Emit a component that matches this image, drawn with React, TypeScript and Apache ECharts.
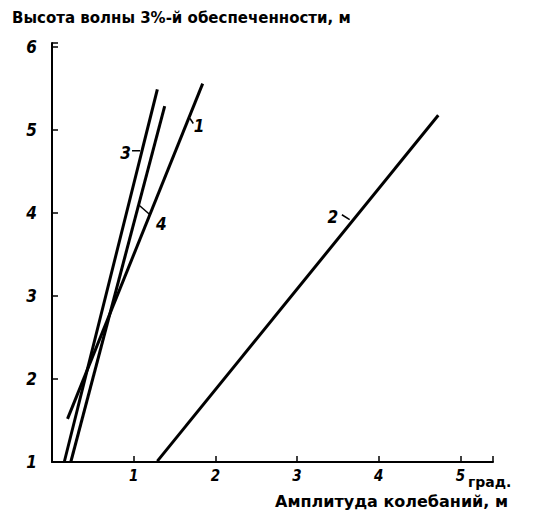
import React, { useEffect, useRef } from "react";
import * as echarts from "echarts";

// Data
const curveNames = ["1", "2", "3", "4"];
const amplitudeStart = [0.19, 1.29, 0.15, 0.23];
const amplitudeEnd = [1.845, 4.73, 1.29, 1.38];
const heightStart = [1.52, 1.01, 1.0, 1.0];
const heightEnd = [5.56, 5.18, 5.49, 5.29];

// Curve label anchor points and leader lines (data coordinates)
const labelX = [1.8, 3.44, 0.9, 1.34];
const labelY = [5.05, 3.95, 4.72, 3.87];
const leaderX1 = [1.69, 3.55, 0.98, 1.06];
const leaderY1 = [5.14, 3.98, 4.75, 4.1];
const leaderX2 = [1.73, 3.645, 1.08, 1.2];
const leaderY2 = [5.08, 3.92, 4.75, 3.98];

const xTicks = [1, 2, 3, 4, 5];
const yTicks = [1, 2, 3, 4, 5, 6];

const yTitle = "Высота волны 3%-й обеспеченности, м";
const xUnit = "град.";
const xTitle = "Амплитуда колебаний, м";

export default function App() {
  const ref = useRef<HTMLDivElement>(null);
  useEffect(() => {
    if (!ref.current) return;
    const chart = echarts.init(ref.current, null, { renderer: "svg" });
    const tickFont = {
      fontFamily: "DejaVu Sans Condensed",
      fontStyle: "italic" as const,
      fontWeight: "bold" as const,
      color: "#000",
      textBorderWidth: 0,
      textBorderColor: "transparent",
    };
    const series: any[] = [];
    curveNames.forEach((n, i) => {
      series.push({
        type: "line",
        name: "curve" + n,
        data: [
          [amplitudeStart[i], heightStart[i]],
          [amplitudeEnd[i], heightEnd[i]],
        ],
        symbol: "none",
        lineStyle: { color: "#000", width: 3 },
        z: 3,
      });
      series.push({
        type: "line",
        name: "leader" + n,
        data: [
          [leaderX1[i], leaderY1[i]],
          [leaderX2[i], leaderY2[i]],
        ],
        symbol: "none",
        lineStyle: { color: "#000", width: 1.5 },
        z: 3,
      });
    });
    series.push({
      type: "scatter",
      name: "labels",
      symbolSize: 0,
      itemStyle: { color: "#000", opacity: 1 },
      data: curveNames.map((n, i) => ({ value: [labelX[i], labelY[i]], name: n })),
      label: {
        show: true,
        position: "inside",
        formatter: (p: any) => p.name,
        fontSize: 17,
        ...tickFont,
      },
      z: 4,
    });
    const titleFont = "DejaVu Sans";
    chart.setOption({
      animation: false,
      backgroundColor: "#fff",
      grid: { left: 52, top: 43, right: 45, bottom: 49, containLabel: false },
      xAxis: {
        type: "value",
        min: 0,
        max: 5.4,
        interval: 1,
        axisLine: { show: true, lineStyle: { color: "#000", width: 2 } },
        axisTick: { show: true, inside: true, length: 6, lineStyle: { color: "#000", width: 1.5 } },
        splitLine: { show: false },
        axisLabel: {
          ...tickFont,
          fontSize: 15,
          margin: 6,
          formatter: (v: number) => (xTicks.includes(v) ? String(v) : ""),
        },
      },
      yAxis: {
        type: "value",
        min: 1,
        max: 6.05,
        interval: 1,
        axisLine: { show: true, lineStyle: { color: "#000", width: 2 } },
        axisTick: { show: true, inside: true, length: 6, lineStyle: { color: "#000", width: 1.5 } },
        splitLine: { show: false },
        axisLabel: {
          ...tickFont,
          fontSize: 17,
          margin: 15,
          formatter: (v: number) => (yTicks.includes(v) ? String(v) : ""),
        },
      },
      graphic: [
        {
          type: "text",
          left: 12,
          top: 10,
          style: {
            text: yTitle,
            fontFamily: titleFont,
            fontWeight: "bold",
            fontSize: 15,
            fill: "#000",
          },
        },
        {
          type: "text",
          left: 468,
          top: 475,
          style: {
            text: xUnit,
            fontFamily: titleFont,
            fontWeight: "bold",
            fontSize: 14,
            fill: "#000",
          },
        },
        {
          type: "text",
          left: 275,
          top: 493,
          style: {
            text: xTitle,
            fontFamily: titleFont,
            fontWeight: "bold",
            fontSize: 16,
            fill: "#000",
          },
        },
      ],
      series,
    });
    return () => chart.dispose();
  }, []);
  return (
    <div
      ref={ref}
      style={{ position: "fixed", left: 0, top: 0, width: 538, height: 511, background: "#fff" }}
    />
  );
}
